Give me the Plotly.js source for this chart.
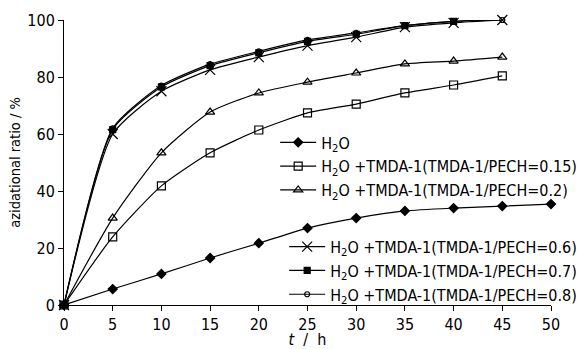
<!DOCTYPE html>
<html><head><meta charset="utf-8">
<script src="https://cdn.plot.ly/plotly-3.0.1.min.js"></script>
<style>body{margin:0;background:#fff}#c{width:581px;height:349px}</style>
</head><body><div id="c"></div>
<script>
const hours = [0, 5, 10, 15, 20, 25, 30, 35, 40, 45, 50];
const h2o = [0, 5.6, 10.9, 16.5, 21.7, 27, 30.5, 33, 34, 34.7, 35.4];
const r015 = [0, 23.9, 41.8, 53.4, 61.4, 67.4, 70.5, 74.4, 77.2, 80.4];
const r02 = [0, 30.5, 53.4, 67.7, 74.4, 78.2, 81.4, 84.6, 85.6, 87];
const r06 = [0, 60, 75, 82.5, 87, 91, 94, 97.5, 99, 100];
const r07 = [0, 61.5, 76.5, 84, 88.5, 92.5, 95, 98, 99.5, 100.5];
const r08 = [0, 62, 77, 84.5, 89, 93, 95.5, 98, 99.5, 100];
const names = ['H<sub>2</sub>O', 'H<sub>2</sub>O +TMDA-1(TMDA-1/PECH=0.15)', 'H<sub>2</sub>O +TMDA-1(TMDA-1/PECH=0.2)',
  'H<sub>2</sub>O +TMDA-1(TMDA-1/PECH=0.6)', 'H<sub>2</sub>O +TMDA-1(TMDA-1/PECH=0.7)', 'H<sub>2</sub>O +TMDA-1(TMDA-1/PECH=0.8)'];

const FONT = 'DejaVu Sans Condensed, DejaVu Sans, sans-serif';
function tr(y, name, sym, size, fill, leg, w) {
  return {x: hours.slice(0, y.length), y: y, name: name, type: 'scatter', mode: 'lines+markers',
    line: {color: '#000', width: w || 1.2, shape: 'spline', smoothing: 0.6},
    marker: {symbol: sym, size: size, color: fill, line: {color: '#000', width: 1.2}},
    legend: leg, cliponaxis: false};
}
const data = [
  tr(h2o, names[0], 'diamond', 7, '#000', 'legend'),
  tr(r015, names[1], 'square-open', 8, '#000', 'legend'),
  tr(r02, names[2], 'triangle-up-open', 8, '#000', 'legend'),
  tr(r06, names[3], 'x-thin-open', 10, '#000', 'legend2'),
  tr(r07, names[4], 'square', 6, '#000', 'legend2'),
  tr(r08, names[5], 'circle-open', 5, '#000', 'legend2')
];
const layout = {
  width: 581, height: 349, margin: {l: 64, r: 30, t: 20, b: 44, autoexpand: false},
  paper_bgcolor: '#fff', plot_bgcolor: '#fff',
  font: {family: FONT, size: 16, color: '#000'},
  showlegend: true,
  xaxis: {range: [0, 50], tickvals: hours, ticks: 'outside', ticklen: 5, tickcolor: '#000',
    showline: true, linecolor: '#000', linewidth: 1, showgrid: false, zeroline: false,
    title: {text: '<i>t</i>  /  h', font: {size: 16}, standoff: 1}},
  yaxis: {range: [0, 100], tickvals: [0, 20, 40, 60, 80, 100], ticks: 'outside', ticklen: 5, tickcolor: '#000',
    showline: true, linecolor: '#000', linewidth: 1, showgrid: false, zeroline: false,
    title: {text: 'azidational ratio / %', font: {size: 14.5}, standoff: 3}},
  legend: {x: 1.064, y: 0.63, xanchor: 'right', yanchor: 'top', bgcolor: 'rgba(0,0,0,0)',
    font: {size: 16}, tracegroupgap: 0, itemwidth: 36},
  legend2: {x: 1.064, y: 0.264, xanchor: 'right', yanchor: 'top', bgcolor: 'rgba(0,0,0,0)',
    font: {size: 16}, tracegroupgap: 0, itemwidth: 36}
};
Plotly.newPlot('c', data, layout, {displayModeBar: false, staticPlot: true});
</script>
</body></html>
